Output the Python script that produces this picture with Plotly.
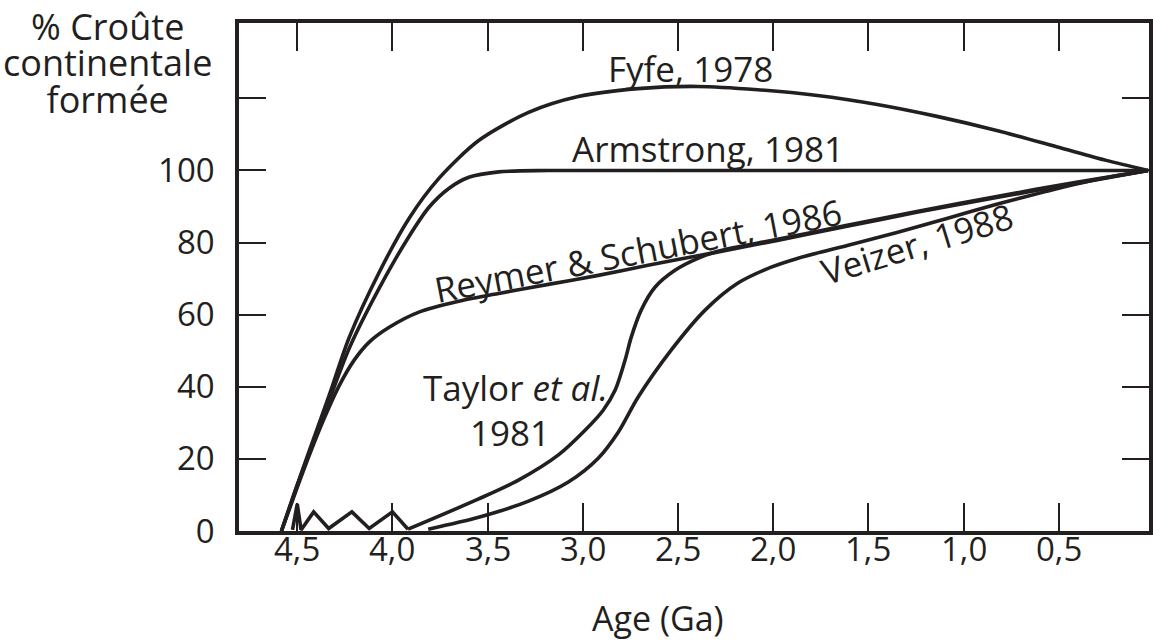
import plotly.graph_objects as go

INK = "#231f20"
FONT = "Open Sans"

# ---- data (age in Ga, % continental crust formed) ----
fyfe_age = [4.583, 4.509, 4.436, 4.332, 4.227, 4.070, 3.913, 3.756, 3.547, 3.285, 3.024,
            2.710, 2.396, 2.082, 1.768, 1.454, 1.140, 0.826, 0.512, 0.251, 0.031]
fyfe_pct = [0, 11.4, 22.4, 37.7, 53.7, 71.7, 86.7, 97.8, 108.3, 116.1, 120.5,
            122.7, 123.3, 122.4, 120.8, 118.3, 115.0, 111.1, 106.6, 102.8, 100.0]

arm_age = [4.583, 4.509, 4.436, 4.332, 4.227, 4.070, 3.913, 3.808, 3.704, 3.599, 3.442, 3.181, 0.031]
arm_pct = [0, 11.4, 21.9, 36.3, 50.7, 67.3, 81.7, 89.8, 95.0, 98.1, 99.6, 100.0, 100.0]

rs_age = [4.583, 4.509, 4.436, 4.358, 4.279, 4.201, 4.122, 4.017, 3.861, 3.652, 3.442,
          3.181, 2.919, 2.658, 2.328, 1.978, 1.612, 1.246, 0.826, 0.408, 0.031]
rs_pct = [0, 10.8, 21.1, 31.3, 40.4, 47.4, 52.4, 56.5, 60.7, 63.7, 65.9,
          68.4, 70.9, 73.7, 77.0, 80.6, 84.5, 88.4, 92.5, 96.4, 100.0]

zig_age = [4.525, 4.50, 4.480, 4.414, 4.335, 4.213, 4.122, 4.0, 3.918]
zig_pct = [0.3, 7.5, 0.3, 5.3, 0.7, 5.3, 0.7, 5.3, 0.5]

tay_age = [3.918, 3.547, 3.338, 3.128, 2.987, 2.893, 2.830, 2.778, 2.746, 2.694, 2.621,
           2.516, 2.396, 2.291, 1.978, 1.612, 1.246, 0.826, 0.408, 0.031]
tay_pct = [0.5, 8.9, 14.1, 21.1, 28.0, 33.5, 39.1, 47.4, 53.7, 61.2, 67.6,
           72.3, 75.6, 77.6, 80.9, 84.8, 88.6, 92.8, 96.7, 100.0]

vz_age = [3.812, 3.547, 3.285, 3.076, 2.919, 2.814, 2.710, 2.537, 2.359, 2.187, 2.014,
          1.873, 1.611, 1.350, 1.088, 0.826, 0.565, 0.303, 0.031]
vz_pct = [0.5, 3.8, 8.3, 13.6, 20.2, 27.4, 37.1, 50.1, 61.2, 68.7, 73.1,
          75.6, 79.2, 82.8, 86.7, 90.6, 94.2, 97.5, 100.0]

x_ticks = [4.5, 4.0, 3.5, 3.0, 2.5, 2.0, 1.5, 1.0, 0.5]
x_labels = ["4,5", "4,0", "3,5", "3,0", "2,5", "2,0", "1,5", "1,0", "0,5"]
y_ticks = [0, 20, 40, 60, 80, 100, 120]
y_labels = ["0", "20", "40", "60", "80", "100", ""]
y_title_lines = ["% Croûte", "continentale", "formée"]

X_RANGE = [4.806, 0.026]
Y_RANGE = [0, 140.9]

fig = go.Figure()
LW = 3.6
curves = [(fyfe_age, fyfe_pct), (rs_age, rs_pct), (tay_age, tay_pct),
          (vz_age, vz_pct), (arm_age, arm_pct)]
for ax, ay in curves:
    fig.add_trace(go.Scatter(x=ax, y=ay, mode="lines",
                             line=dict(color=INK, width=LW, shape="spline", smoothing=0.8),
                             hoverinfo="skip"))
fig.add_trace(go.Scatter(x=zig_age, y=zig_pct, mode="lines",
                         line=dict(color=INK, width=LW), hoverinfo="skip"))

tick_font = dict(family=FONT, size=33, color=INK)
tf = dict(family=FONT, size=35, color=INK)
labels = [
    ("Fyfe, 1978", 2.432, 128.3, 0),
    ("Armstrong, 1981", 2.344, 106.1, 0),
    ("Reymer &amp; Schubert, 1986", 2.710, 77.8, -11),
    ("Taylor <i>et al.</i>", 3.353, 39.9, 0),
    ("1981", 3.385, 27.4, 0),
    ("Veizer, 1988", 1.245, 79.8, -17),
]
for txt, lx, ly, ang in labels:
    fig.add_annotation(x=lx, y=ly, text=txt, showarrow=False, textangle=ang, font=tf,
                       xanchor="center", yanchor="middle")

# x tick labels placed under the ticks (axis scale positions)
for tv, tt in zip(x_ticks, x_labels):
    fig.add_annotation(x=tv, xref="x", yref="paper", y=-0.0335, text=tt, showarrow=False,
                       font=tick_font, xanchor="center", yanchor="middle")

# multi-line y title: tight leading from a smaller base size, glyphs at 36px
ytitle = "<br>".join('<span style="font-size:36px">%s</span>' % s for s in y_title_lines)
fig.add_annotation(xref="paper", yref="paper", x=-0.1444, y=0.9213, text=ytitle,
                   showarrow=False, font=dict(family=FONT, size=28, color=INK),
                   xanchor="center", yanchor="middle", align="center")
fig.add_annotation(xref="paper", yref="paper", x=0.4606, y=-0.2205, text="Age (Ga)",
                   showarrow=False, font=dict(family=FONT, size=34, color=INK),
                   xanchor="center", yanchor="bottom")

fig.update_layout(
    width=1153, height=643,
    margin=dict(l=239, r=0, t=23, b=112, pad=0),
    paper_bgcolor="white", plot_bgcolor="white",
    showlegend=False,
    font=tf,
    xaxis=dict(range=X_RANGE, tickvals=x_ticks, ticks="inside", showticklabels=False,
               ticklen=28, tickwidth=1.6, tickcolor=INK, showline=True, linewidth=3.5,
               linecolor=INK, mirror="allticks", showgrid=False, zeroline=False),
    yaxis=dict(range=Y_RANGE, tickvals=y_ticks, ticktext=y_labels, ticks="inside",
               ticklen=27, tickwidth=1.6, tickcolor=INK, showline=True, linewidth=3.5,
               linecolor=INK, mirror="allticks", showgrid=False, zeroline=False,
               tickfont=tick_font, ticklabelstandoff=14),
)

fig.write_html("out.html", config={"displayModeBar": False},
               post_script="document.body.style.margin='0';document.body.style.overflow='hidden';")
